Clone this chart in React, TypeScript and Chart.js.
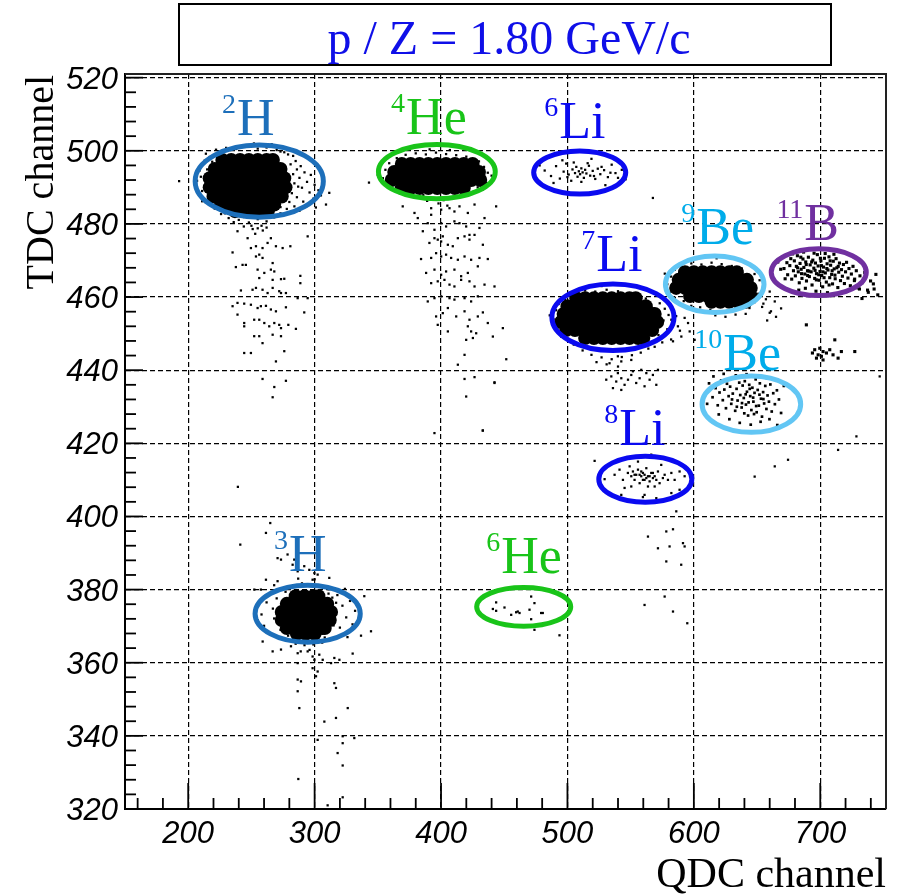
import React, { useEffect, useRef } from 'react';
import { Chart, registerables } from 'chart.js';

Chart.register(...registerables);

// ---------- axes ----------
const X_MIN = 150;
const X_MAX = 752;
const Y_MIN = 320;
const Y_MAX = 521;
const xTicks = [200, 300, 400, 500, 600, 700];
const yTicks = [320, 340, 360, 380, 400, 420, 440, 460, 480, 500, 520];
const xMinorStep = 20;
const yMinorStep = 4;

const titleText = 'p / Z = 1.80 GeV/c';
const xTitle = 'QDC channel';
const yTitle = 'TDC channel';

// ---------- dense cores of the clusters (QDC, TDC) ----------
const coreH2 = [
  [227, 497.5], [234, 497.5], [241, 497.5], [248, 497.5], [255, 497.5], [262, 497.5], [267, 497.5],
  [221, 495.0], [228, 495.0], [235, 495.0], [242, 495.0], [249, 495.0], [256, 495.0], [263, 495.0], [270, 495.0], [273, 495.0],
  [217, 492.5], [224, 492.5], [231, 492.5], [238, 492.5], [245, 492.5], [252, 492.5], [259, 492.5], [266, 492.5], [273, 492.5], [276, 492.5],
  [217, 490.0], [224, 490.0], [231, 490.0], [238, 490.0], [245, 490.0], [252, 490.0], [259, 490.0], [266, 490.0], [273, 490.0], [277, 490.0],
  [220, 487.5], [227, 487.5], [234, 487.5], [241, 487.5], [248, 487.5], [255, 487.5], [262, 487.5], [269, 487.5], [274, 487.5],
  [226, 485.3], [233, 485.3], [240, 485.3], [247, 485.3], [254, 485.3], [261, 485.3], [268, 485.3],
  [237, 483.5], [244, 483.5], [251, 483.5], [258, 483.5], [263, 483.5],
];
const coreHe4 = [
  [369, 496.4], [376, 496.4], [383, 496.4], [390, 496.4], [397, 496.4], [404, 496.4], [411, 496.4], [418, 496.4], [425, 496.4],
  [363, 494.2], [370, 494.2], [377, 494.2], [384, 494.2], [391, 494.2], [398, 494.2], [405, 494.2], [412, 494.2], [419, 494.2], [426, 494.2], [430, 494.2],
  [361, 492.0], [368, 492.0], [375, 492.0], [382, 492.0], [389, 492.0], [396, 492.0], [403, 492.0], [410, 492.0], [417, 492.0], [424, 492.0], [431, 492.0],
  [369, 489.8], [376, 489.8], [383, 489.8], [390, 489.8], [397, 489.8], [404, 489.8], [411, 489.8], [418, 489.8],
];
const coreLi7 = [
  [507, 459.7], [514, 459.7], [521, 459.7], [528, 459.7], [535, 459.7], [542, 459.7], [549, 459.7], [554, 459.7],
  [500, 457.5], [507, 457.5], [514, 457.5], [521, 457.5], [528, 457.5], [535, 457.5], [542, 457.5], [549, 457.5], [556, 457.5], [562, 457.5],
  [497, 455.4], [504, 455.4], [511, 455.4], [518, 455.4], [525, 455.4], [532, 455.4], [539, 455.4], [546, 455.4], [553, 455.4], [560, 455.4], [567, 455.4], [569, 455.4],
  [495, 453.2], [502, 453.2], [509, 453.2], [516, 453.2], [523, 453.2], [530, 453.2], [537, 453.2], [544, 453.2], [551, 453.2], [558, 453.2], [565, 453.2], [571, 453.2],
  [499, 451.0], [506, 451.0], [513, 451.0], [520, 451.0], [527, 451.0], [534, 451.0], [541, 451.0], [548, 451.0], [555, 451.0], [562, 451.0], [567, 451.0],
  [514, 448.8], [521, 448.8], [528, 448.8], [535, 448.8], [542, 448.8], [549, 448.8], [556, 448.8], [560, 448.8],
];
const coreBe9 = [
  [593, 466.8], [600, 466.8], [607, 466.8], [614, 466.8], [621, 466.8], [628, 466.8], [634, 466.8],
  [588, 464.7], [595, 464.7], [602, 464.7], [609, 464.7], [616, 464.7], [623, 464.7], [630, 464.7], [637, 464.7], [642, 464.7],
  [586, 462.5], [593, 462.5], [600, 462.5], [607, 462.5], [614, 462.5], [621, 462.5], [628, 462.5], [635, 462.5], [642, 462.5], [645, 462.5],
  [597, 460.3], [604, 460.3], [611, 460.3], [618, 460.3], [625, 460.3], [632, 460.3], [639, 460.3], [645, 460.3],
  [614, 458.7], [621, 458.7], [628, 458.7], [635, 458.7], [641, 458.7],
];
const coreH3 = [
  [285, 378.2], [292, 378.2], [299, 378.2], [303, 378.2],
  [278, 376.1], [285, 376.1], [292, 376.1], [299, 376.1], [306, 376.1], [310, 376.1],
  [274, 373.9], [281, 373.9], [288, 373.9], [295, 373.9], [302, 373.9], [309, 373.9], [313, 373.9],
  [274, 371.7], [281, 371.7], [288, 371.7], [295, 371.7], [302, 371.7], [309, 371.7], [312, 371.7],
  [278, 369.5], [285, 369.5], [292, 369.5], [299, 369.5], [306, 369.5], [308, 369.5],
  [286, 367.9], [293, 367.9], [300, 367.9],
];

// ---------- individual events (QDC, TDC) ----------
const dotsH2 = [
  [222, 500.3], [230, 500.8], [238, 500.5], [247, 501.2], [255, 500.6], [262, 500.9], [270, 500.2], [276, 499.6], [283, 498.6], [214, 499.2], [252, 502.0], [266, 501.8],
  [285, 497.2], [289, 495.8], [292, 494.1], [288, 492.6], [294, 491.5], [297, 493.4], [290, 489.9], [296, 488.6], [300, 490.7], [286, 487.3], [291, 486.1], [299, 486.9], [303, 489.2], [284, 484.8], [288, 483.6], [305, 487.8], [301, 484.5], [294, 484.9],
  [281, 496.3], [283, 493.6], [284, 491.1], [282, 488.4], [286, 494.9], [287, 490.2], [280, 486.0], [279, 499.0], [273, 499.8], [217, 498.3], [211, 496.1], [210, 492.9], [211, 489.0], [214, 485.9],
  [209, 494.6], [207, 491.8], [208, 488.7], [211, 486.2], [213, 497.3], [206, 490.2], [219, 497.0], [215, 494.9], [216, 486.3], [221, 484.2], [229, 482.9], [273, 484.6], [277, 486.8],
  [226, 482.7], [232, 481.6], [240, 481.1], [248, 480.4], [255, 481.3], [262, 480.7], [268, 481.8], [273, 482.9], [278, 484.1], [244, 479.3], [251, 478.6], [258, 479.5], [236, 480.5],
  [309, 485.3], [311.6, 488.5], [294.5, 476.6], [192.8, 491.7],
  [250, 479.5], [255, 478.8], [259, 478.2], [262, 479.0], [253, 477.3],
  [239.0, 478.0], [247.0, 476.1], [249.6, 473.4], [253.6, 473.9], [258.8, 473.4], [262.8, 474.8], [265.4, 476.1], [235.1, 472.2], [237.7, 468.2], [243.0, 468.8], [245.6, 468.8],
  [253.6, 471.1], [256.2, 471.6], [258.8, 470.7], [266.8, 469.3], [269.4, 473.9], [274.7, 473.4], [280.8, 473.9], [254.9, 467.5], [260.2, 466.6], [265.4, 467.5], [268.1, 467.0],
  [256.2, 465.2], [266.8, 464.7], [273.4, 464.9], [276.0, 465.0], [288.7, 465.8], [288.7, 463.8], [241.7, 461.8], [250.9, 462.0], [253.6, 462.5], [258.8, 462.0], [262.8, 461.1],
  [266.8, 462.5], [272.0, 461.6], [273.4, 461.1], [277.3, 461.1], [286.6, 459.7], [294.5, 459.7], [235.1, 457.5], [239.0, 458.4], [244.3, 458.2], [249.6, 457.9], [254.9, 457.0],
  [257.5, 457.5], [261.5, 457.6], [265.4, 456.6], [269.4, 456.1], [277.3, 457.2], [291.8, 455.8], [239.0, 455.2], [244.3, 452.9], [244.3, 452.0], [252.2, 453.8], [256.2, 453.8],
  [260.2, 452.9], [264.1, 452.0], [268.1, 452.9], [272.0, 452.4], [273.4, 451.5], [279.2, 452.4], [285.2, 451.3], [252.2, 449.3], [256.2, 449.3], [258.8, 447.4], [266.8, 449.7],
  [273.4, 449.3], [276.0, 445.2], [244.3, 444.7], [249.6, 444.7], [269.4, 442.4], [258.8, 437.6], [277.3, 437.1], [268.1, 435.4], [266.8, 432.6], [239.3, 408.1],
];
const dotsHe4 = [
  [372, 498.9], [380, 499.3], [388, 499.0], [396, 499.5], [404, 499.1], [412, 498.8], [420, 498.4], [391, 500.4], [407, 500.2], [365, 498.0],
  [430, 497.1], [434, 495.6], [437, 494.0], [432, 492.7], [440, 493.2], [436, 491.2], [429, 490.0], [442, 495.8], [426, 488.9], [433, 489.4],
  [356, 494.8], [354, 492.5], [357, 490.6], [359, 496.6], [350, 493.4], [343.0, 491.3],
  [370, 488.4], [378, 487.6], [386, 487.9], [394, 487.1], [402, 486.5], [410, 487.3], [417, 488.2], [398, 485.6], [389, 486.3], [405, 485.0],
  [369.7, 484.8], [379.0, 483.0], [381.6, 481.6], [392.2, 484.3], [392.2, 482.5], [400.1, 483.9], [406.7, 484.3], [410.6, 483.4], [414.6, 484.8], [421.2, 483.0], [426.5, 485.3], [434.4, 481.6], [443.6, 484.8],
  [385.6, 478.0], [389.5, 480.2], [394.8, 478.4], [400.1, 480.2], [404.0, 479.3], [410.6, 480.7], [414.6, 480.2], [419.9, 479.3], [422.5, 477.0], [430.4, 478.9],
  [390.8, 474.8], [394.8, 476.1], [397.4, 475.7], [400.1, 475.2], [401.4, 476.6], [405.4, 474.3], [409.3, 473.9], [413.3, 476.1], [418.6, 476.6], [422.5, 475.7], [426.5, 477.0], [433.1, 474.3],
  [384.2, 470.4], [392.2, 470.7], [396.1, 472.0], [400.1, 471.1], [404.0, 471.6], [408.0, 470.7], [413.3, 470.2], [418.6, 471.1], [423.8, 470.2], [430.4, 470.7], [437.0, 470.4],
  [388.2, 466.6], [394.8, 467.5], [400.1, 466.1], [404.0, 467.0], [410.6, 467.5], [415.9, 465.7], [421.2, 466.6], [429.1, 468.4],
  [392.2, 463.8], [397.4, 464.3], [402.7, 464.7], [406.7, 463.4], [410.6, 462.9], [415.9, 464.7], [422.5, 464.3], [426.5, 462.9], [434.4, 463.4], [442.3, 462.9],
  [389.5, 458.8], [394.8, 459.7], [400.1, 460.2], [406.7, 459.7], [410.6, 459.3], [418.6, 459.7], [423.8, 458.8], [429.1, 460.2],
  [396.1, 454.7], [401.4, 455.6], [405.4, 457.0], [412.0, 454.7], [418.6, 456.1], [422.5, 453.8], [429.1, 454.7], [433.1, 455.8], [437.0, 452.9], [448.9, 451.5],
  [397.4, 452.4], [405.4, 450.6], [421.2, 452.0], [423.8, 450.6], [419.9, 448.3], [425.2, 448.8], [427.8, 450.1], [441.0, 449.2],
  [418.6, 444.2], [413.3, 441.5], [418.6, 437.6], [426.5, 438.1], [442.3, 436.7], [451.6, 443.0], [419.9, 432.8], [394.8, 422.8], [433.1, 423.5],
];
const dotsLi6 = [
  [482, 494.6], [487, 493.1], [491, 495.8], [494, 492.4], [497, 494.3], [499, 496.5], [501, 493.5], [503, 491.8], [504, 494.9], [506, 493.9], [507, 495.6], [508, 492.9],
  [509, 494.4], [510, 493.6], [511, 495.2], [512, 494.1], [513, 492.6], [514, 494.8], [515, 493.8], [517, 495.9], [518, 493.2], [520, 494.5], [522, 492.3], [524, 495.1],
  [526, 493.6], [529, 494.7], [532, 492.8], [535, 496.2], [538, 493.9], [543, 494.8], [489, 491.2], [496, 497.4], [519, 497.8], [530, 490.6], [546, 492.2], [478, 496.0],
  [505, 496.8], [511, 491.5], [516, 496.6], [521, 493.1], [527, 495.6], [500, 492.8], [534, 494.0], [540, 492.6],
  [567.6, 487.1],
];
const dotsLi7 = [
  [505, 461.2], [514, 461.8], [522, 461.5], [531, 462.0], [540, 461.6], [548, 461.0], [556, 460.3], [562, 459.6], [498, 459.5], [527, 463.0],
  [573, 458.3], [577, 456.8], [580, 455.1], [576, 453.6], [583, 452.9], [579, 451.2], [572, 449.6], [586, 454.8], [589, 450.8], [575, 447.6], [569, 446.4], [582, 448.4],
  [491, 456.4], [489, 453.9], [492, 451.4], [495, 449.2], [493, 458.1], [486, 455.0],
  [505, 447.0], [512, 445.4], [519, 444.2], [527, 443.5], [535, 443.0], [543, 443.6], [551, 444.1], [558, 444.8], [564, 445.9], [531, 441.6], [540, 441.0], [523, 442.2],
  [530.7, 437.4], [534.7, 438.3], [538.6, 436.9], [539.9, 439.2], [542.6, 437.8], [545.2, 436.0], [547.9, 437.4], [550.5, 438.7], [554.4, 436.5], [557.1, 437.8], [561.0, 435.6],
  [565.0, 437.4], [567.6, 438.7], [570.3, 436.0], [536.0, 435.1], [542.6, 434.6], [551.8, 439.7], [558.4, 440.1], [562.4, 439.2], [571.6, 440.1], [542.6, 442.4], [550.5, 442.8],
  [539.9, 443.8], [533.3, 441.9],
  [582.2, 453.8], [587.4, 452.0], [592.7, 454.3], [590.1, 449.2], [596.7, 450.6], [600.6, 448.3], [583.5, 447.9], [595.4, 452.9],
];
const dotsBe9 = [
  [590, 468.6], [598, 469.2], [606, 468.9], [614, 469.4], [622, 469.0], [630, 468.5], [638, 467.8], [585, 467.5], [602, 470.4], [618, 470.6],
  [582, 465.6], [579, 463.5], [581, 461.2], [585, 459.8], [577, 466.4],
  [648, 466.3], [652, 464.6], [655, 462.8], [651, 460.9], [657, 459.4], [648, 458.6], [660, 461.5], [654, 457.3], [661, 456.1], [664, 458.8],
  [592, 458.9], [598, 457.6], [605, 457.2], [613, 456.5], [621, 456.1], [629, 456.4], [637, 456.9], [644, 457.0], [617, 455.0], [633, 455.2], [625, 454.6], [641, 455.4],
  [655, 458.2], [660, 455.7], [665, 454.6], [669, 456.9], [658, 453.6],
];
const dotsB11 = [
  [671.3, 467.8], [673.6, 469.4], [674.2, 466.1], [675.9, 468.6], [676.7, 470.5], [677.4, 464.9], [678.8, 467.2], [679.5, 469.9], [680.3, 465.8], [681.1, 468.4],
  [681.9, 471.3], [682.6, 466.9], [683.4, 463.9], [684.0, 469.2], [684.9, 467.6], [685.5, 465.1], [686.3, 470.4], [687.0, 468.1], [687.8, 466.3], [688.5, 469.6],
  [689.1, 464.4], [689.9, 467.2], [690.6, 470.9], [691.4, 465.6], [692.0, 468.8], [692.8, 466.9], [693.5, 463.3], [694.1, 470.1], [694.9, 467.9], [695.6, 465.1],
  [696.2, 469.3], [697.0, 466.4], [697.7, 471.6], [698.3, 468.5], [699.1, 464.6], [699.8, 467.0], [700.5, 469.9], [701.2, 465.9], [701.9, 462.8], [702.6, 468.2],
  [703.3, 470.6], [704.0, 466.6], [704.8, 464.1], [705.4, 469.1], [706.1, 467.4], [706.9, 471.0], [707.5, 465.3], [708.2, 468.7], [709.0, 466.2], [709.7, 463.6],
  [710.3, 469.8], [711.0, 467.7], [711.8, 465.0], [712.5, 470.5], [713.1, 468.0], [713.9, 462.6], [714.6, 466.8], [715.2, 469.3], [716.0, 464.5], [716.8, 467.5],
  [717.5, 465.7], [718.3, 468.9], [719.1, 463.7], [720.0, 466.9], [720.8, 469.5], [721.9, 465.2], [722.7, 467.8], [723.8, 463.1], [724.6, 466.3], [725.9, 468.4],
  [727.2, 464.9], [728.5, 467.2], [729.9, 462.5], [731.4, 465.8], [733.0, 463.9], [735.2, 466.7], [737.4, 461.9], [739.8, 464.4], [742.6, 462.2], [745.5, 460.6],
  [683.0, 461.9], [688.2, 462.4], [696.6, 461.6], [705.7, 461.2], [712.0, 460.8], [720.5, 461.5],
  [678.1, 471.8], [686.8, 472.3], [695.1, 472.0], [703.9, 471.9], [710.8, 471.7],
  [672.2, 465.0], [668.7, 467.6], [666.4, 469.6],
  [682.1, 468.0], [685.2, 466.4], [688.9, 468.9], [691.0, 467.1], [693.2, 469.6], [695.9, 467.3], [698.8, 466.1], [700.9, 468.6], [703.0, 465.3], [705.2, 467.8],
  [707.8, 469.9], [709.4, 467.2], [711.6, 466.0], [714.2, 468.4], [690.0, 465.9], [696.9, 464.7], [702.1, 466.9], [707.0, 463.3], [684.6, 470.9], [700.1, 470.6],
  [727, 464.5], [731, 462.2], [738, 461.3], [742, 463.6], [733, 459.6], [744, 466.2],
  [693.8, 444.7], [695.6, 445.6], [698.3, 444.2], [699.6, 446.0], [700.9, 443.8], [702.2, 445.1], [704.9, 444.7], [707.5, 445.6], [710.1, 444.2], [711.5, 448.3],
  [714.1, 443.3], [716.7, 445.1], [727.3, 445.1], [702.2, 442.8], [697.0, 443.3], [689.0, 452.4],
];
const dotsBe10 = [
  [614.8, 432.6], [617.2, 435.1], [618.9, 430.4], [620.3, 433.9], [621.6, 437.2], [622.9, 431.8], [624.1, 434.7], [625.4, 429.6], [626.2, 436.3], [627.5, 432.9],
  [628.7, 435.5], [629.6, 430.8], [630.8, 433.6], [631.9, 437.9], [632.7, 428.9], [633.8, 434.9], [634.6, 431.7], [635.9, 436.6], [636.7, 433.2], [637.8, 429.8],
  [638.6, 435.8], [639.5, 432.4], [640.3, 437.0], [641.2, 430.6], [642.0, 434.1], [642.9, 427.6], [643.8, 436.0], [644.6, 432.9], [645.5, 429.1], [646.3, 435.2],
  [647.1, 431.4], [648.0, 433.8], [648.9, 437.5], [649.7, 428.5], [650.5, 434.6], [651.4, 430.3], [652.2, 436.4], [653.1, 432.2], [653.9, 427.3], [654.8, 434.0],
  [655.6, 430.9], [656.5, 435.7], [657.4, 429.4], [658.3, 433.1], [659.4, 431.4], [660.5, 436.1], [661.6, 428.7], [662.8, 433.7], [664.1, 430.7], [665.7, 434.5],
  [667.3, 432.0], [669.0, 428.3], [671.2, 435.7], [612.0, 436.4], [610.5, 430.8], [615.5, 438.3], [619.7, 427.9], [628.1, 426.6], [636.3, 425.6], [645.0, 425.1],
  [652.8, 425.9], [659.8, 426.6], [666.0, 425.0], [623.6, 439.0], [633.2, 438.6], [641.7, 438.9], [650.1, 438.3], [657.9, 437.8],
  [630.2, 432.0], [634.0, 430.0], [638.1, 431.0], [641.0, 433.4], [644.2, 434.9], [646.9, 432.5], [649.3, 430.2], [651.9, 433.3], [655.0, 432.1], [643.3, 431.2],
  [639.9, 428.2], [647.6, 428.0],
];
const dotsLi8 = [
  [529.4, 410.2], [537.3, 411.4], [541.2, 412.8], [543.9, 410.0], [545.2, 407.8], [547.8, 411.9], [549.2, 413.7], [550.5, 411.0], [551.8, 412.3], [553.1, 410.0],
  [554.4, 411.4], [555.8, 412.8], [557.1, 409.1], [558.4, 411.0], [559.7, 411.9], [561.0, 410.0], [562.4, 413.2], [563.7, 411.0], [565.0, 409.6], [566.3, 411.9],
  [567.6, 410.5], [569.0, 411.0], [570.3, 410.0], [571.6, 412.3], [572.9, 409.1], [574.2, 414.1], [575.5, 410.5], [576.9, 411.4], [579.5, 410.0], [582.2, 411.9],
  [584.8, 410.0], [588.7, 412.3], [592.7, 411.0], [588.7, 407.3], [582.2, 406.4], [570.3, 405.0], [559.7, 405.3], [555.8, 415.0], [566.3, 416.9], [561.0, 405.9],
  [521.5, 415.2], [542.6, 405.9], [550.5, 408.2], [563.7, 408.2], [569.0, 408.2],
  [557.1, 411.4], [561.0, 411.4], [565.0, 411.0], [559.7, 410.0], [567.6, 411.9], [553.1, 411.4], [562.4, 410.5], [558.4, 412.3],
  [586.1, 401.4], [563.7, 394.5], [578.2, 395.9], [583.5, 396.5], [571.6, 391.3], [580.8, 391.8], [591.4, 392.7], [592.7, 391.8], [578.2, 387.7], [590.0, 386.8],
  [561.0, 375.8], [576.9, 378.1], [583.5, 374.0], [594.8, 370.8],
];
const dotsHe6 = [
  [443.6, 376.5], [450.2, 375.1], [441.0, 374.7], [443.6, 374.2], [455.5, 373.1], [460.7, 374.0], [462.1, 373.6], [470.0, 374.5], [471.3, 378.1], [473.9, 376.3],
  [479.2, 373.6], [471.3, 371.9], [480.5, 373.6], [459.4, 373.8], [473.9, 369.0], [493.7, 367.5],
];
const dotsH3 = [
  [262, 376.5], [258, 373.2], [260, 370.1], [265, 367.8], [266, 379.0], [255, 371.6], [268, 381.2],
  [318, 378.5], [322, 375.6], [325, 372.4], [320, 369.6], [328, 376.9], [317, 366.8], [330, 370.5], [324, 380.2], [326, 367.0], [332, 374.2],
  [276, 380.4], [283, 381.2], [290, 381.7], [297, 381.4], [304, 380.9], [311, 380.1], [287, 383.0], [300, 382.8],
  [278, 366.1], [285, 365.2], [292, 364.8], [299, 365.0], [306, 365.5], [313, 366.4], [296, 363.5], [289, 363.1],
  [316, 373.0], [317, 376.4], [315, 370.2], [267, 374.8], [268, 372.1], [270, 377.6], [311, 378.9], [273, 369.0], [277, 379.4], [308, 366.9], [279, 367.4], [314, 377.8],
  [264.9, 398.2], [261.5, 395.5], [241.2, 392.3], [270.7, 388.6], [273.4, 388.2], [278.6, 389.6], [282.6, 386.8], [283.9, 388.2], [286.6, 385.0], [291.8, 386.4],
  [295.8, 385.4], [299.8, 384.5], [302.4, 384.1], [298.4, 382.7], [311.6, 383.2], [261.5, 382.7], [270.7, 382.3], [252.3, 380.0], [257.5, 380.0],
  [258.9, 365.8], [266.8, 363.1], [273.4, 363.6], [281.3, 364.5], [286.6, 362.6], [294.5, 363.1], [298.4, 361.7], [299.8, 360.8], [303.7, 362.2], [306.4, 360.8],
  [313.0, 359.9], [315.6, 361.3], [319.6, 360.8], [330.1, 362.5], [286.6, 359.9], [298.4, 358.5], [302.4, 357.6], [301.1, 356.3], [315.6, 354.4], [286.6, 355.4],
  [289.2, 354.9], [286.6, 352.2], [316.9, 353.1], [287.9, 347.6], [326.2, 347.6], [316.9, 344.9], [307.7, 343.9], [302.4, 338.9], [322.2, 339.9], [331.4, 339.4],
  [322.2, 338.0], [318.2, 335.3], [322.2, 331.9], [287.1, 328.2], [322.2, 323.2], [310.3, 321.0],
  [339.3, 378.2], [344.6, 368.6], [336.7, 367.4],
];
const dotsOther = [
  [433.0, 423.5], [442.3, 436.5], [728.6, 421.9], [747.0, 438.3], [648.1, 410.9], [664.0, 413.7], [674.5, 415.5], [714.1, 418.2],
];

// ---------- annotations (ellipse centre/radii and label anchor, in axis units) ----------
const C_H = '#1d6fba';
const C_HE = '#19c419';
const C_LI = '#0a0af0';
const C_BE = '#00acea';
const C_BE_RING = '#62c6f4';
const C_B = '#7030a0';

const isotopes = [
  { sup: '2', sym: 'H', text: C_H, ring: C_H, cx: 256.2, cy: 491.7, rx: 50.7, ry: 9.85, lx: 226.7, ly: 504.2 },
  { sup: '4', sym: 'He', text: C_HE, ring: C_HE, cx: 396.7, cy: 494.3, rx: 46.2, ry: 7.4, lx: 360.5, ly: 504.7 },
  { sup: '6', sym: 'Li', text: C_LI, ring: C_LI, cx: 509.7, cy: 494.05, rx: 36.4, ry: 5.9, lx: 481.6, ly: 503.4 },
  { sup: '7', sym: 'Li', text: C_LI, ring: C_LI, cx: 536.0, cy: 454.5, rx: 48.3, ry: 9.1, lx: 510.9, ly: 467.0 },
  { sup: '9', sym: 'Be', text: C_BE, ring: C_BE_RING, cx: 616.5, cy: 463.5, rx: 39.0, ry: 7.7, lx: 590.1, ly: 474.6 },
  { sup: '11', sym: 'B', text: C_B, ring: C_B, cx: 698.8, cy: 466.8, rx: 37.6, ry: 6.4, lx: 665.3, ly: 475.7 },
  { sup: '10', sym: 'Be', text: C_BE, ring: C_BE_RING, cx: 645.5, cy: 430.7, rx: 39.0, ry: 7.7, lx: 600.4, ly: 440.1 },
  { sup: '8', sym: 'Li', text: C_LI, ring: C_LI, cx: 561.6, cy: 410.2, rx: 36.8, ry: 6.3, lx: 529.1, ly: 419.6 },
  { sup: '3', sym: 'H', text: C_H, ring: C_H, cx: 294.5, cy: 373.4, rx: 41.6, ry: 7.8, lx: 267.8, ly: 385.1 },
  { sup: '6', sym: 'He', text: C_HE, ring: C_HE, cx: 465.4, cy: 375.3, rx: 37.2, ry: 5.3, lx: 435.7, ly: 384.6 },
];

const SERIF = '"Liberation Serif", "Times New Roman", serif';
const SANS = '"Liberation Sans", Arial, sans-serif';

const toXY = (arr: number[][]) => arr.map(([x, y]) => ({ x, y }));

const coreSet = (data: number[][]) => ({
  data: toXY(data),
  pointRadius: 7,
  pointHoverRadius: 7,
  pointStyle: 'circle',
  backgroundColor: '#000',
  borderWidth: 0,
});
const dotSet = (data: number[][], r = 1.6) => ({
  data: toXY(data),
  pointRadius: r,
  pointHoverRadius: r,
  pointStyle: 'rect',
  backgroundColor: '#000',
  borderWidth: 0,
});

const overlay = {
  id: 'overlay',
  afterDatasetsDraw(chart: any) {
    const { ctx, chartArea: a, scales } = chart;
    const xs = scales.x;
    const ys = scales.y;
    ctx.save();
    // inner tick marks
    ctx.strokeStyle = '#000';
    ctx.lineWidth = 1.8;
    for (let v = X_MIN + (xMinorStep - (X_MIN % xMinorStep)) % xMinorStep; v <= X_MAX; v += xMinorStep) {
      const px = xs.getPixelForValue(v);
      const major = xTicks.includes(v);
      ctx.beginPath();
      ctx.moveTo(px, a.bottom);
      ctx.lineTo(px, a.bottom - (major ? 26 : 11));
      ctx.stroke();
    }
    for (let v = Y_MIN; v <= Y_MAX; v += yMinorStep) {
      const py = ys.getPixelForValue(v);
      const major = yTicks.includes(v);
      ctx.beginPath();
      ctx.moveTo(a.left, py);
      ctx.lineTo(a.left + (major ? 18 : 11), py);
      ctx.stroke();
    }
    // top and right frame
    ctx.strokeStyle = '#222';
    ctx.lineWidth = 2;
    ctx.beginPath();
    ctx.moveTo(a.left, a.top);
    ctx.lineTo(a.right, a.top);
    ctx.lineTo(a.right, a.bottom);
    ctx.stroke();

    // ellipses
    ctx.lineWidth = 5;
    for (const iso of isotopes) {
      const cx = xs.getPixelForValue(iso.cx);
      const cy = ys.getPixelForValue(iso.cy);
      const rx = Math.abs(xs.getPixelForValue(iso.cx + iso.rx) - cx);
      const ry = Math.abs(ys.getPixelForValue(iso.cy + iso.ry) - cy);
      ctx.strokeStyle = iso.ring;
      ctx.beginPath();
      ctx.ellipse(cx, cy, rx, ry, 0, 0, Math.PI * 2);
      ctx.stroke();
    }
    // labels
    ctx.textAlign = 'left';
    ctx.textBaseline = 'alphabetic';
    for (const iso of isotopes) {
      const lx = xs.getPixelForValue(iso.lx);
      const ly = ys.getPixelForValue(iso.ly);
      ctx.fillStyle = iso.text;
      ctx.font = `28px ${SERIF}`;
      ctx.fillText(iso.sup, lx, ly - 22);
      const w = ctx.measureText(iso.sup).width;
      ctx.font = `52px ${SERIF}`;
      ctx.fillText(iso.sym, lx + w + 1, ly);
    }
    ctx.restore();
  },
  afterDraw(chart: any) {
    const { ctx, chartArea: a, scales } = chart;
    const xs = scales.x;
    const ys = scales.y;
    ctx.save();
    // tick labels
    ctx.fillStyle = '#000';
    ctx.font = `italic 31px ${SANS}`;
    ctx.textBaseline = 'alphabetic';
    ctx.textAlign = 'center';
    for (const v of xTicks) ctx.fillText(String(v), xs.getPixelForValue(v), a.bottom + 34);
    ctx.textAlign = 'right';
    for (const v of yTicks) ctx.fillText(String(v), a.left - 7, ys.getPixelForValue(v) + 11);

    // axis titles
    ctx.font = `42px ${SERIF}`;
    ctx.textAlign = 'right';
    ctx.fillText(xTitle, a.right, 887);
    ctx.save();
    ctx.translate(53, a.top + 1);
    ctx.rotate(-Math.PI / 2);
    ctx.font = `40px ${SERIF}`;
    ctx.textAlign = 'right';
    ctx.fillText(yTitle, 0, 0);
    ctx.restore();

    // title box
    ctx.fillStyle = '#fff';
    ctx.fillRect(179, 4, 652, 61);
    ctx.strokeStyle = '#000';
    ctx.lineWidth = 2;
    ctx.strokeRect(179, 4, 652, 61);
    ctx.fillStyle = '#0f0fe8';
    ctx.font = `48px ${SERIF}`;
    ctx.textAlign = 'center';
    ctx.fillText(titleText, 509, 54);
    ctx.restore();
  },
};

export default function App() {
  const ref = useRef<HTMLCanvasElement | null>(null);
  useEffect(() => {
    if (!ref.current) return;
    const chart = new Chart(ref.current, {
      type: 'scatter',
      data: {
        datasets: [
          coreSet(coreH2), coreSet(coreHe4), coreSet(coreLi7), coreSet(coreBe9), coreSet(coreH3),
          dotSet(dotsH2), dotSet(dotsHe4), dotSet(dotsLi6), dotSet(dotsLi7), dotSet(dotsBe9),
          dotSet(dotsB11, 2.2), dotSet(dotsBe10, 1.9), dotSet(dotsLi8), dotSet(dotsHe6), dotSet(dotsH3), dotSet(dotsOther),
        ] as any,
      },
      options: {
        responsive: false,
        animation: false,
        events: [],
        layout: { padding: { top: 74, right: 15, left: 0, bottom: 0 } },
        plugins: { legend: { display: false }, tooltip: { enabled: false }, title: { display: false } },
        scales: {
          x: {
            type: 'linear',
            min: X_MIN,
            max: X_MAX,
            afterBuildTicks: (s: any) => { s.ticks = xTicks.map((v) => ({ value: v })); },
            afterFit: (s: any) => { s.height = 85; },
            ticks: { display: false },
            grid: { color: '#000', lineWidth: 1.2, drawTicks: false },
            border: { display: true, color: '#000', width: 2, dash: [5, 3] },
          },
          y: {
            type: 'linear',
            min: Y_MIN,
            max: Y_MAX,
            afterBuildTicks: (s: any) => { s.ticks = yTicks.map((v) => ({ value: v })); },
            afterFit: (s: any) => { s.width = 125; },
            ticks: { display: false },
            grid: { color: '#000', lineWidth: 1.2, drawTicks: false },
            border: { display: true, color: '#000', width: 2, dash: [5, 3] },
          },
        },
      } as any,
      plugins: [overlay],
    });
    return () => chart.destroy();
  }, []);
  return (
    <div style={{ position: 'absolute', left: 0, top: 0, width: 901, height: 894, background: '#fff' }}>
      <canvas ref={ref} width={901} height={894} style={{ display: 'block' }} />
    </div>
  );
}
